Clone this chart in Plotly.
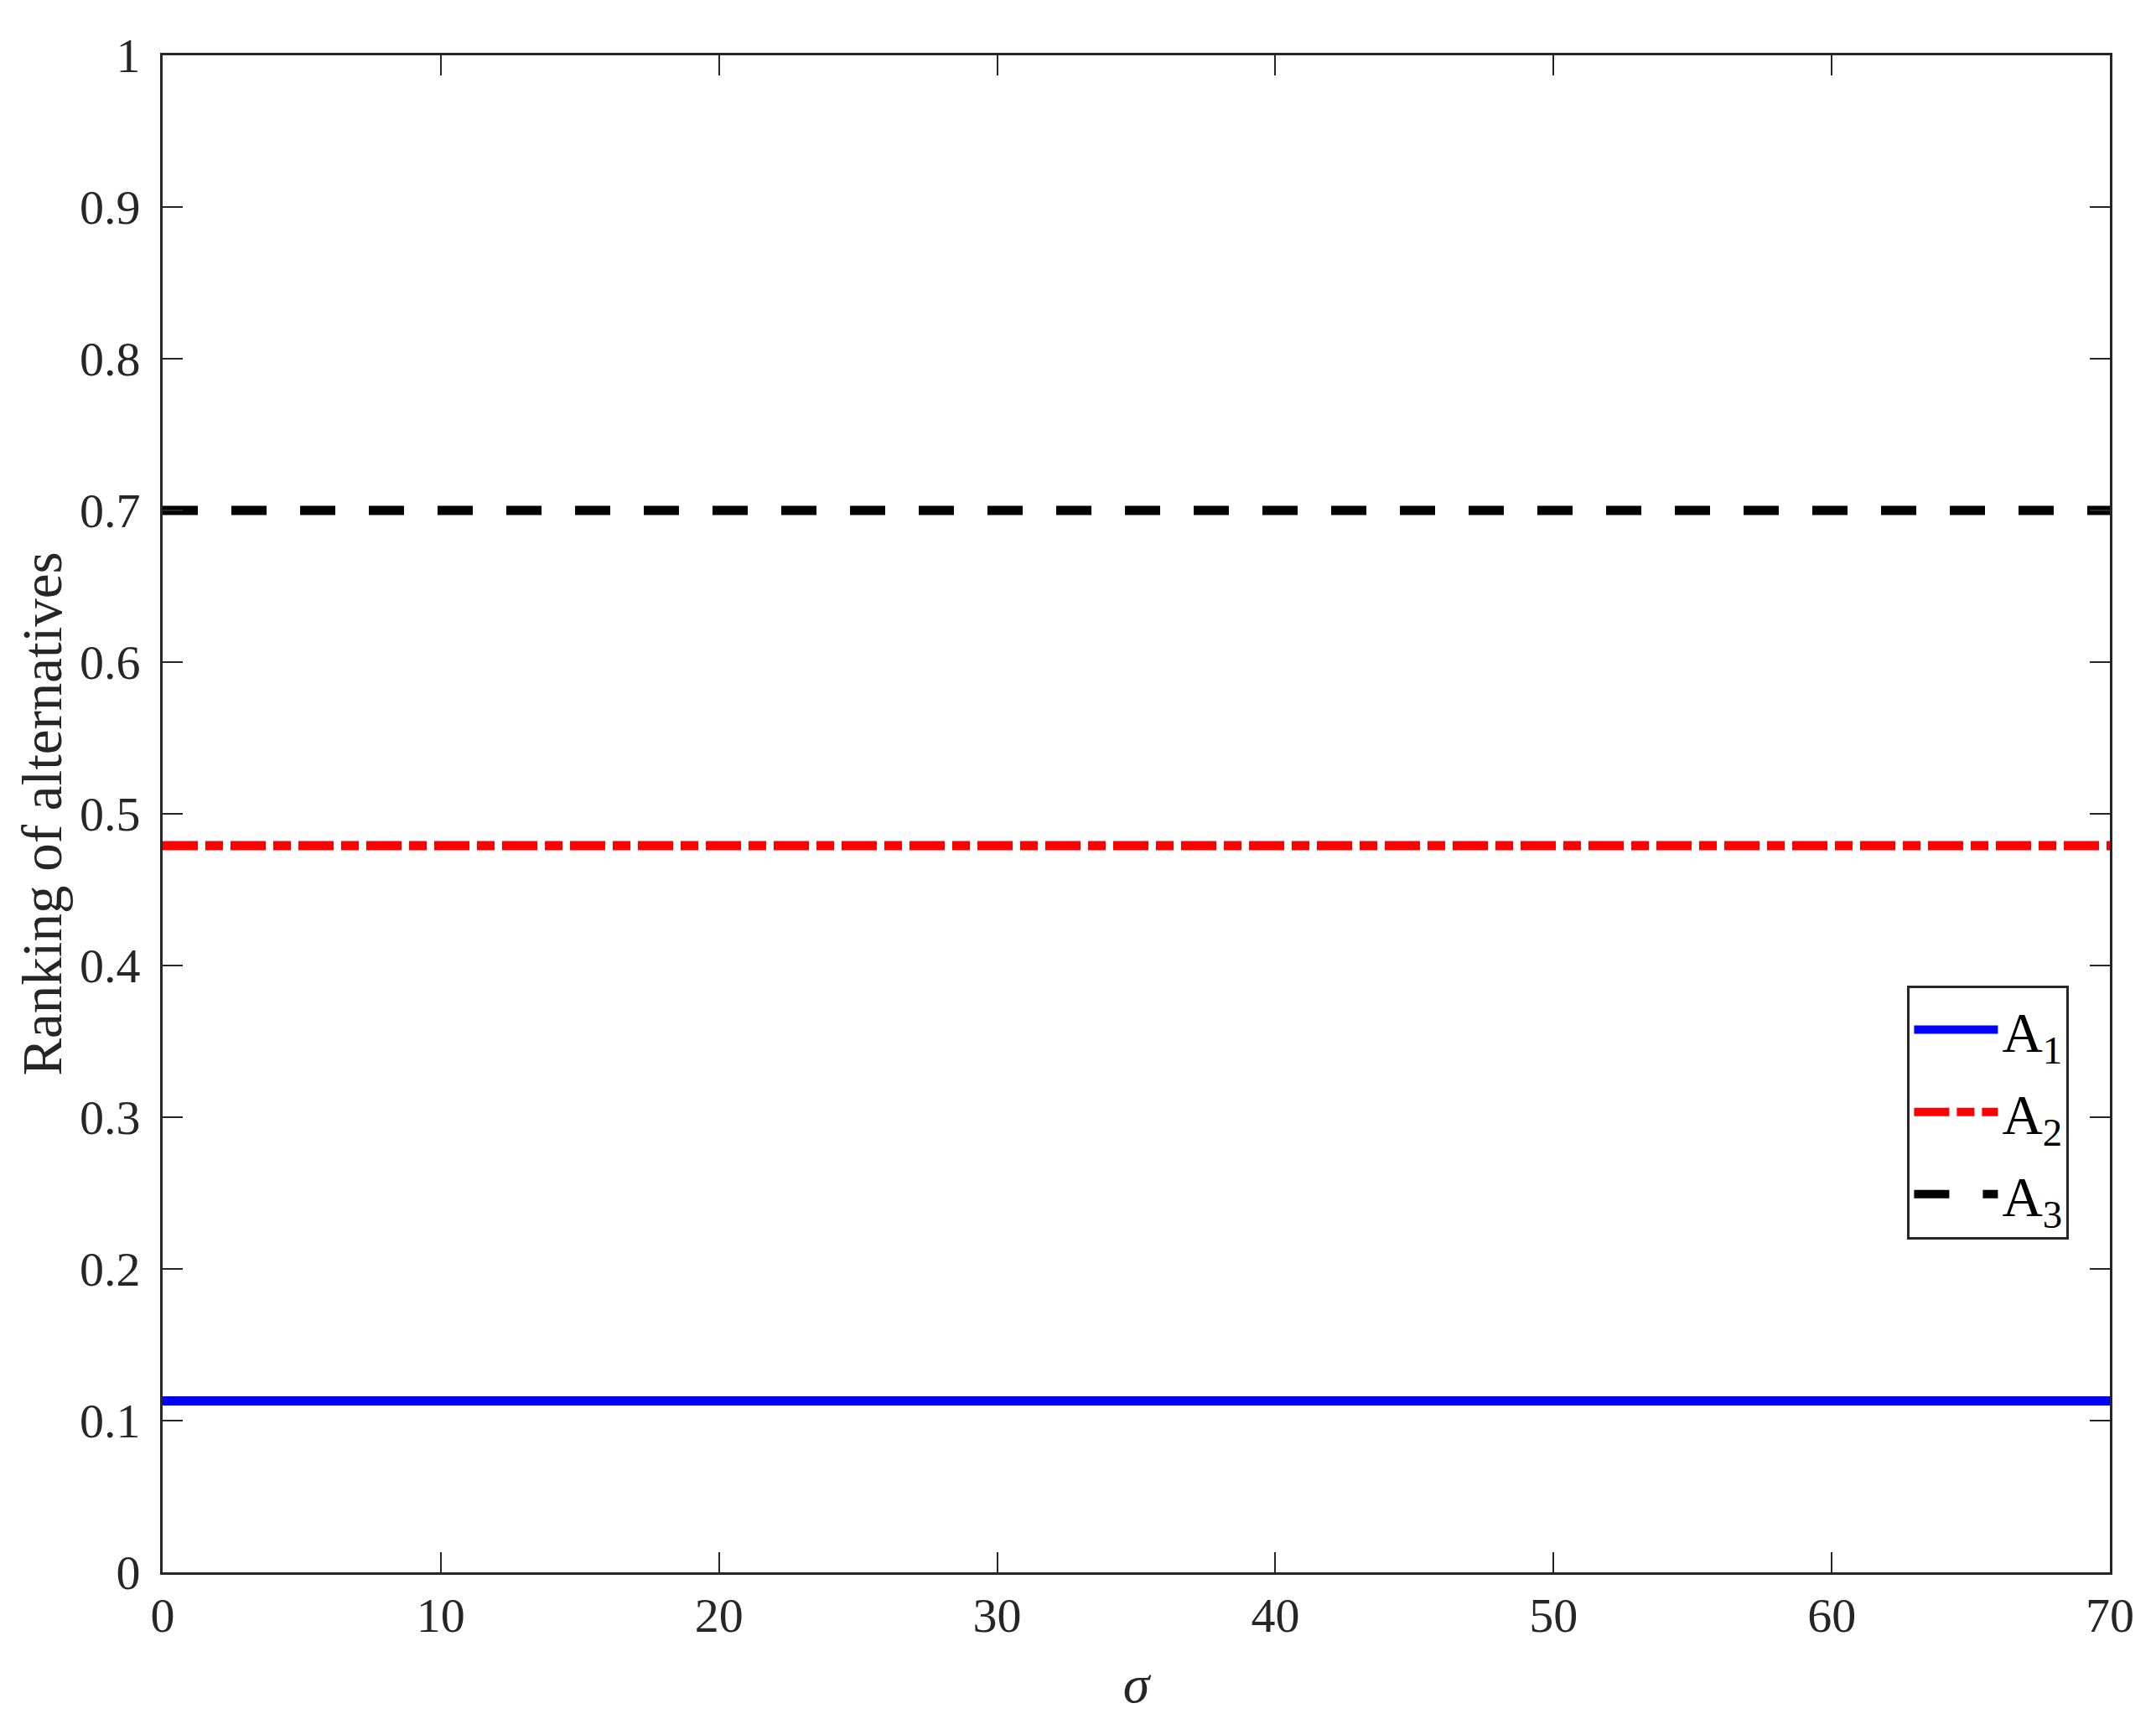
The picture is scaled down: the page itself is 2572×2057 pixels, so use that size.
import plotly.graph_objects as go

# sigma values along the x axis
sigma = [0, 10, 20, 30, 40, 50, 60, 70]

# ranking of each alternative (flat across sigma)
a1 = [0.113, 0.113, 0.113, 0.113, 0.113, 0.113, 0.113, 0.113]
a2 = [0.479, 0.479, 0.479, 0.479, 0.479, 0.479, 0.479, 0.479]
a3 = [0.700, 0.700, 0.700, 0.700, 0.700, 0.700, 0.700, 0.700]

names = ["A<sub>1</sub>", "A<sub>2</sub>", "A<sub>3</sub>"]

AX = "#262626"
FONT = "Liberation Serif, Times New Roman, serif"

fig = go.Figure()
fig.add_trace(go.Scatter(x=sigma, y=a1, mode="lines", name=names[0], legendgroup="a1",
                         line=dict(color="#0000ff", width=11, dash="solid")))
fig.add_trace(go.Scatter(x=sigma, y=a2, mode="lines", name=names[1], legendgroup="a2",
                         line=dict(color="#ff0000", width=11, dash="42px,9px,21px,9px")))
fig.add_trace(go.Scatter(x=sigma, y=a3, mode="lines", name=names[2], legendgroup="a3",
                         line=dict(color="#000000", width=11, dash="42px,40px")))

axis_common = dict(
    showgrid=False, zeroline=False,
    showline=True, linecolor=AX, linewidth=3, mirror="allticks",
    ticks="inside", ticklen=24, tickwidth=2, tickcolor=AX,
    tickfont=dict(family=FONT, size=58, color=AX),
)

fig.update_xaxes(range=[0, 70], tickvals=[0, 10, 20, 30, 40, 50, 60, 70],
                 ticklabelstandoff=-2,
                 title=dict(text="<i>σ</i>", font=dict(family=FONT, size=64, color=AX), standoff=28),
                 **axis_common)
fig.update_yaxes(range=[0, 1], dtick=0.1, ticklabelstandoff=12,
                 title=dict(text="Ranking of alternatives", font=dict(family=FONT, size=67, color=AX), standoff=0),
                 **axis_common)

# page body adds ~8px offset, so shift margins to compensate
fig.update_layout(
    width=2572, height=2057,
    margin=dict(l=186, r=63, t=58, b=189),
    plot_bgcolor="white", paper_bgcolor="white",
    legend=dict(
        x=0.896, y=0.387, xanchor="left", yanchor="top",
        bordercolor=AX, borderwidth=3, bgcolor="white",
        font=dict(family=FONT, size=67, color="black"),
        itemwidth=100, tracegroupgap=8,
    ),
)

fig.write_html("out.html")
